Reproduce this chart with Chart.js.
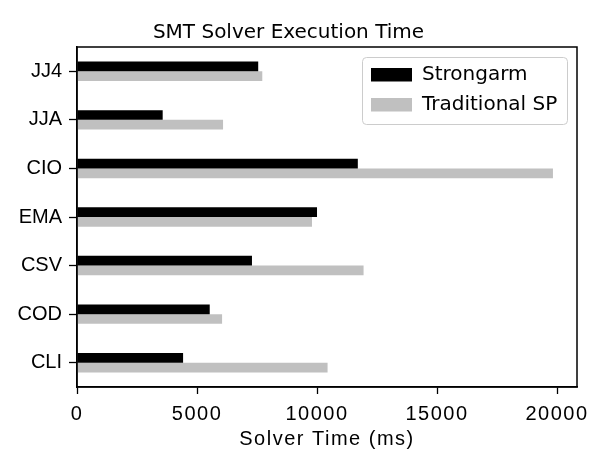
<!DOCTYPE html>
<html>
<head>
<meta charset="utf-8">
<script src="https://cdn.jsdelivr.net/npm/chart.js@4/dist/chart.umd.min.js"></script>
<style>
  html, body { margin: 0; padding: 0; background: #fff; }
  #wrap { width: 603px; height: 467px; position: relative; }
</style>
</head>
<body>
<div id="wrap"><canvas id="c" width="603" height="467"></canvas></div>
<script>
const categories = ["JJ4", "JJA", "CIO", "EMA", "CSV", "COD", "CLI"];
const strongarm = [7550, 3570, 11700, 10000, 7290, 5530, 4420];
const traditionalSP = [7720, 6085, 19830, 9790, 11940, 6045, 10440];
const xTicks = [0, 5000, 10000, 15000, 20000];
const seriesNames = ["Strongarm", "Traditional SP"];
const titleText = "SMT Solver Execution Time";
const xTitle = "Solver Time (ms)";

const FONT_TICK = "'Liberation Sans', Arial, Helvetica, sans-serif";
const FONT_DV = "'DejaVu Sans', sans-serif";

// letter spacing for x-axis labels/title
const xSpacing = {
  id: 'xSpacing',
  beforeDraw(chart) {
    const sx = chart.scales.x;
    if (sx && !sx._wrapped) {
      const dl = sx.drawLabels, dt = sx.drawTitle;
      sx.drawLabels = function (a) { const c = this.ctx; c.save(); c.letterSpacing = '1.5px'; dl.call(this, a); c.restore(); };
      sx.drawTitle = function (a) { const c = this.ctx; c.save(); c.letterSpacing = '1.5px'; dt.call(this, a); c.restore(); };
      sx._wrapped = true;
    }
  }
};

// frame (all four spines) + boxed legend
const frameLegend = {
  id: 'frameLegend',
  afterDraw(chart) {
    const ctx = chart.ctx, a = chart.chartArea;
    ctx.save();
    ctx.strokeStyle = '#000';
    ctx.lineWidth = 1.5;
    ctx.strokeRect(a.left, a.top, a.right - a.left, a.bottom - a.top);

    // legend
    const bx = a.right - 215, by = a.top + 10, bw = 205, bh = 67;
    ctx.fillStyle = 'rgba(255,255,255,0.8)';
    ctx.strokeStyle = '#cccccc';
    ctx.lineWidth = 1;
    ctx.beginPath();
    ctx.roundRect(bx + 0.5, by + 0.5, bw, bh, 4);
    ctx.fill();
    ctx.stroke();
    ctx.font = "20px " + FONT_DV;
    ctx.textBaseline = 'middle';
    ctx.textAlign = 'left';
    chart.data.datasets.forEach((ds, i) => {
      const y = by + 11 + i * 30;
      ctx.fillStyle = ds.backgroundColor;
      ctx.fillRect(bx + 9, y, 41, 13.5);
      ctx.fillStyle = '#000';
      ctx.fillText(ds.label, bx + 60, y + 7);
    });
    ctx.restore();
  }
};

new Chart(document.getElementById('c'), {
  type: 'bar',
  data: {
    labels: categories,
    datasets: [
      { label: seriesNames[0], data: strongarm, backgroundColor: '#000000', borderWidth: 0,
        categoryPercentage: 0.4, barPercentage: 1.0 },
      { label: seriesNames[1], data: traditionalSP, backgroundColor: '#c0c0c0', borderWidth: 0,
        categoryPercentage: 0.4, barPercentage: 1.0 }
    ]
  },
  options: {
    indexAxis: 'y',
    responsive: false,
    animation: false,
    devicePixelRatio: 1,
    layout: { padding: { left: 0, right: 26, top: 0, bottom: 0 } },
    plugins: {
      legend: { display: false },
      tooltip: { enabled: false },
      title: {
        display: true,
        text: titleText,
        color: '#000',
        font: { family: FONT_DV, size: 20, weight: 'normal' },
        padding: { top: 21, bottom: 2 }
      }
    },
    scales: {
      x: {
        type: 'linear',
        min: 0,
        max: 20832,
        afterFit(s) { s.height = 80; },
        afterBuildTicks(s) { s.ticks = xTicks.map(v => ({ value: v })); },
        grid: { drawOnChartArea: false, drawTicks: true, tickLength: 7, tickColor: '#000', tickWidth: 1.3 },
        border: { display: true, color: '#000', width: 1.5 },
        ticks: { color: '#000', font: { family: FONT_TICK, size: 20 }, padding: 8, maxRotation: 0,
                 callback: v => String(v) },
        title: { display: true, text: xTitle, color: '#000',
                 font: { family: FONT_TICK, size: 20 }, padding: { top: 0, bottom: 16 } }
      },
      y: {
        type: 'category',
        afterFit(s) { s.width = 77; },
        grid: { offset: false, drawOnChartArea: false, drawTicks: true, tickLength: 8, tickColor: '#000', tickWidth: 1.3 },
        border: { display: true, color: '#000', width: 1.5 },
        ticks: { color: '#000', font: { family: FONT_TICK, size: 20 }, padding: 7 }
      }
    }
  },
  plugins: [xSpacing, frameLegend]
});
</script>
</body>
</html>
